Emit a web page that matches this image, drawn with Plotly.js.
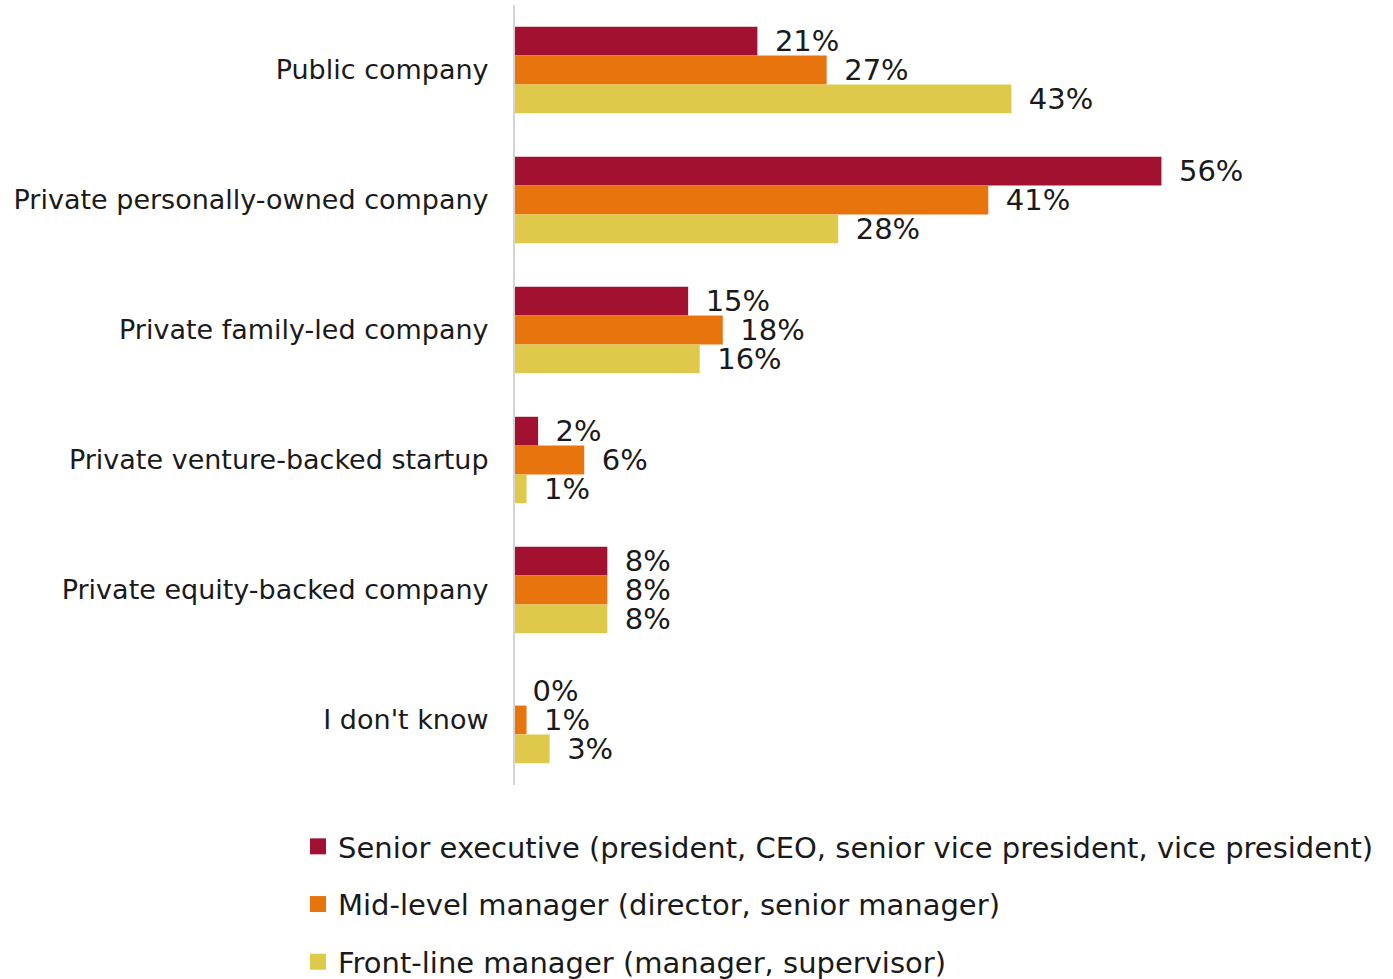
<!DOCTYPE html>
<html>
<head>
<meta charset="utf-8">
<script src="https://cdn.plot.ly/plotly-3.0.1.min.js"></script>
<style>html,body{margin:0;padding:0;background:#fff;}#chart{width:1393px;height:979px;}</style>
</head>
<body>
<div id="chart"></div>
<script>
const categories = ["Public company", "Private personally-owned company", "Private family-led company", "Private venture-backed startup", "Private equity-backed company", "I don't know"];
const seriesNames = ["Senior executive (president, CEO, senior vice president, vice president)", "Mid-level manager (director, senior manager)", "Front-line manager (manager, supervisor)"];
const senior = [21, 56, 15, 2, 8, 0];
const mid = [27, 41, 18, 6, 8, 1];
const front = [43, 28, 16, 1, 8, 3];
const colors = ["#A31131", "#E8740E", "#DEC94A"];

const FONT = "DejaVu Sans, sans-serif";
const allSeries = [senior, mid, front];
const traces = allSeries.map((vals, i) => ({
  type: "bar",
  orientation: "h",
  name: seriesNames[i],
  y: categories,
  x: vals,
  text: vals.map(v => v + "%"),
  texttemplate: "\u2002%{text}",
  textposition: "outside",
  constraintext: "none",
  cliponaxis: false,
  textfont: {family: FONT, size: 29, color: "#1a1a1a"},
  marker: {color: colors[i], line: {width: 0}},
  showlegend: false,
  hoverinfo: "none"
}));
// legend-only square markers
seriesNames.forEach((nm, i) => {
  traces.push({
    type: "scatter",
    mode: "markers",
    x: [null], y: [null],
    name: nm,
    legendgroup: "g" + i,
    showlegend: true,
    marker: {symbol: "square", size: 16, color: colors[i]},
    hoverinfo: "none"
  });
});

const layout = {
  width: 1393, height: 979,
  margin: {l: 515, r: 3, t: 5, b: 194},
  barmode: "group",
  bargap: 0.335,
  bargroupgap: 0,
  paper_bgcolor: "#fff",
  plot_bgcolor: "#fff",
  showlegend: true,
  legend: {
    orientation: "v",
    x: -0.248, xanchor: "left",
    yref: "container",
    y: 0.1614, yanchor: "top",
    traceorder: "grouped",
    tracegroupgap: 17,
    font: {family: FONT, size: 29, color: "#1a1a1a"},
    bgcolor: "rgba(0,0,0,0)"
  },
  xaxis: {
    range: [0, 75.8],
    autorange: false,
    automargin: false,
    visible: false,
    showgrid: false,
    zeroline: false,
    fixedrange: true
  },
  yaxis: {
    autorange: "reversed",
    automargin: false,
    showline: true,
    linecolor: "#d4d4d4",
    linewidth: 2,
    showgrid: false,
    zeroline: false,
    ticks: "outside",
    ticklen: 19,
    tickcolor: "rgba(0,0,0,0)",
    tickfont: {family: FONT, size: 27, color: "#1a1a1a"},
    fixedrange: true
  }
};

Plotly.newPlot("chart", traces, layout, {displayModeBar: false, staticPlot: true});
</script>
</body>
</html>
